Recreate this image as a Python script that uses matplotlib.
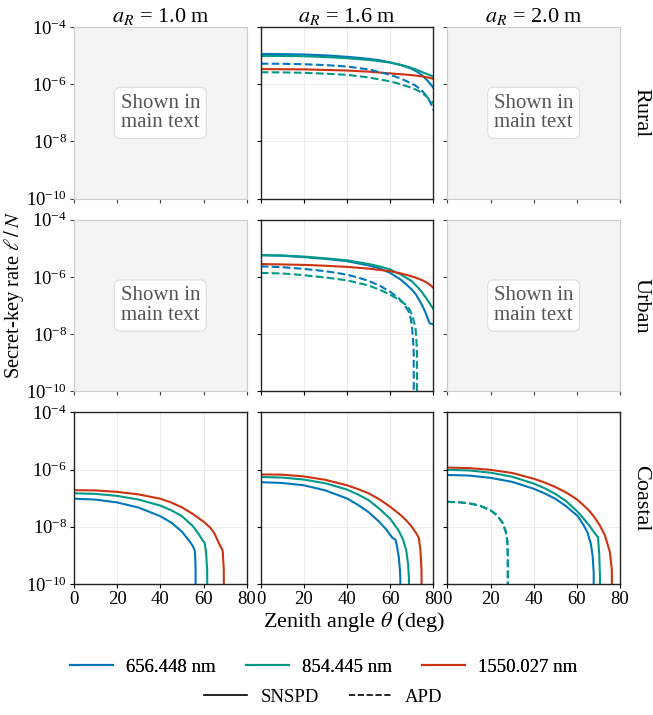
import numpy as np
import matplotlib
matplotlib.use("Agg")
import matplotlib.pyplot as plt
from matplotlib.lines import Line2D

plt.rcParams['font.family'] = ['Liberation Serif', 'DejaVu Serif']
plt.rcParams['mathtext.fontset'] = 'stix'

# ---------------- data ----------------
apertures = ["1.0", "1.6", "2.0"]
environments = ["Rural", "Urban", "Coastal"]
wavelengths = ["656.448 nm", "854.445 nm", "1550.027 nm"]
colors = ["#0077BB", "#009988", "#CC3311"]

# All rates given as log10(ell/N).
# Rural, a_R = 1.6 m
rural16_blue_s_theta = [0, 10, 20, 30, 40, 50, 55, 60, 65, 70, 72.4, 75, 77, 78.5, 80]
rural16_blue_s = [-4.94, -4.945, -4.96, -4.99, -5.04, -5.11, -5.16, -5.24, -5.33, -5.46, -5.56, -5.70, -5.85, -5.98, -6.12]
rural16_green_s_theta = [0, 10, 20, 30, 40, 50, 60, 65, 70, 72.4, 75, 78, 80]
rural16_green_s = [-5.01, -5.01, -5.02, -5.05, -5.09, -5.15, -5.24, -5.32, -5.43, -5.50, -5.58, -5.67, -5.73]
rural16_red_s_theta = [0, 20, 40, 50, 60, 70, 75, 78, 80]
rural16_red_s = [-5.47, -5.48, -5.52, -5.56, -5.62, -5.68, -5.73, -5.77, -5.81]
rural16_blue_a_theta = [0, 10, 20, 30, 40, 50, 60, 65, 70, 72.4, 75, 77, 78, 79, 80]
rural16_blue_a = [-5.28, -5.285, -5.30, -5.33, -5.38, -5.48, -5.67, -5.80, -5.98, -6.08, -6.25, -6.42, -6.55, -6.70, -6.90]
rural16_green_a_theta = [0, 10, 20, 30, 40, 50, 60, 65, 70, 72.4, 75, 77, 78, 79, 80]
rural16_green_a = [-5.58, -5.585, -5.60, -5.63, -5.67, -5.76, -5.90, -6.00, -6.13, -6.20, -6.32, -6.44, -6.52, -6.60, -6.66]

# Urban, a_R = 1.6 m
urban16_blue_s_theta = [0, 10, 20, 30, 40, 50, 55, 60, 65, 68, 70, 72, 74, 75, 76.5, 77.5, 78.3, 80]
urban16_blue_s = [-5.24, -5.26, -5.31, -5.37, -5.45, -5.60, -5.70, -5.86, -6.10, -6.30, -6.44, -6.62, -6.88, -7.02, -7.27, -7.48, -7.62, -7.66]
urban16_green_s_theta = [0, 10, 20, 30, 40, 50, 55, 60, 65, 70, 73, 75, 77, 78.5, 80]
urban16_green_s = [-5.24, -5.25, -5.29, -5.35, -5.42, -5.55, -5.63, -5.74, -5.92, -6.15, -6.38, -6.56, -6.78, -6.95, -7.12]
urban16_red_s_theta = [0, 20, 30, 40, 50, 60, 65, 70, 73, 75, 77, 78.5, 80]
urban16_red_s = [-5.55, -5.58, -5.61, -5.65, -5.71, -5.80, -5.88, -5.98, -6.06, -6.12, -6.20, -6.28, -6.38]
urban16_blue_a_theta = [0, 10, 20, 30, 40, 45, 50, 55, 60, 64, 66.2, 68.5, 69.5, 70.1, 70.6, 70.9, 71.0]
urban16_blue_a = [-5.63, -5.66, -5.72, -5.80, -5.92, -6.02, -6.14, -6.30, -6.52, -6.75, -6.92, -7.20, -7.45, -7.72, -8.20, -8.60, -12]
urban16_green_a_theta = [0, 10, 20, 30, 40, 50, 55, 60, 64, 67.8, 69.4, 70.8, 71.8, 72.2, 72.4, 72.5]
urban16_green_a = [-5.86, -5.88, -5.94, -6.02, -6.12, -6.30, -6.44, -6.62, -6.80, -7.00, -7.20, -7.50, -7.84, -8.30, -8.60, -12]

# Coastal, a_R = 1.0 m
coast10_blue_theta = [0, 10, 20, 30, 40, 45, 50, 54, 55, 55.5, 56.0, 56.3, 56.4]
coast10_blue = [-7.02, -7.05, -7.15, -7.33, -7.63, -7.85, -8.17, -8.55, -8.67, -8.75, -8.85, -9.30, -12]
coast10_green_theta = [0, 10, 20, 30, 40, 45, 50, 55, 58, 59.8, 60.5, 61.2, 61.7, 61.8]
coast10_green = [-6.83, -6.85, -6.92, -7.05, -7.26, -7.42, -7.63, -7.97, -8.28, -8.50, -8.55, -8.90, -9.50, -12]
coast10_red_theta = [0, 10, 20, 30, 40, 45, 50, 55, 60, 63, 65, 67.6, 68.2, 68.9, 69.4, 69.5]
coast10_red = [-6.72, -6.73, -6.78, -6.87, -7.02, -7.15, -7.32, -7.55, -7.82, -8.02, -8.22, -8.65, -8.72, -8.85, -9.50, -12]

# Coastal, a_R = 1.6 m
coast16_blue_theta = [0, 10, 20, 30, 40, 45, 50, 55, 58, 61, 61.5, 62.5, 63.2, 64.0, 64.5, 64.7, 64.8]
coast16_blue = [-6.44, -6.47, -6.55, -6.73, -7.01, -7.23, -7.49, -7.83, -8.08, -8.38, -8.41, -8.45, -8.70, -9.06, -9.50, -9.80, -12]
coast16_green_theta = [0, 10, 20, 30, 40, 45, 50, 55, 60, 63.9, 66, 67.5, 68.3, 68.7, 68.8]
coast16_green = [-6.26, -6.28, -6.35, -6.48, -6.70, -6.87, -7.07, -7.37, -7.72, -8.13, -8.45, -8.85, -9.30, -9.80, -12]
coast16_red_theta = [0, 10, 20, 30, 40, 45, 50, 55, 60, 65, 68, 70, 72, 72.7, 73.3, 74.0, 74.5, 74.7]
coast16_red = [-6.17, -6.18, -6.24, -6.36, -6.55, -6.68, -6.83, -7.04, -7.30, -7.60, -7.82, -8.00, -8.22, -8.31, -8.40, -8.80, -9.50, -12]

# Coastal, a_R = 2.0 m
coast20_blue_theta = [0, 10, 20, 30, 40, 45, 50, 55, 60, 60.6, 61.2, 63.0, 64.9, 66.5, 67.3, 67.8, 67.9]
coast20_blue = [-6.19, -6.21, -6.29, -6.43, -6.67, -6.83, -7.02, -7.28, -7.60, -7.65, -7.72, -7.93, -8.19, -8.60, -9.01, -9.60, -12]
coast20_green_theta = [0, 10, 20, 30, 40, 45, 50, 55, 60, 63, 66, 68, 69.3, 69.8, 70.4, 70.7, 70.8]
coast20_green = [-6.01, -6.03, -6.11, -6.25, -6.49, -6.65, -6.85, -7.10, -7.45, -7.70, -7.98, -8.20, -8.32, -8.36, -9.00, -9.70, -12]
coast20_red_theta = [0, 10, 20, 30, 40, 45, 50, 55, 60, 65, 68, 70.7, 73, 75.3, 76.2, 76.4]
coast20_red = [-5.93, -5.95, -6.01, -6.12, -6.32, -6.45, -6.61, -6.80, -7.04, -7.38, -7.65, -7.96, -8.30, -8.88, -9.50, -12]
coast20_apd_theta = [0, 5, 10, 15, 20, 23, 25.5, 27, 27.8, 28.0, 28.1]
coast20_apd = [-7.13, -7.14, -7.18, -7.26, -7.42, -7.60, -7.85, -8.15, -8.50, -9.00, -12]

# (row, col) -> list of (theta, log10 rate, color index, linestyle)
panels = {
    (0, 1): [(rural16_blue_s_theta, rural16_blue_s, 0, '-'),
             (rural16_green_s_theta, rural16_green_s, 1, '-'),
             (rural16_red_s_theta, rural16_red_s, 2, '-'),
             (rural16_blue_a_theta, rural16_blue_a, 0, '--'),
             (rural16_green_a_theta, rural16_green_a, 1, '--')],
    (1, 1): [(urban16_blue_s_theta, urban16_blue_s, 0, '-'),
             (urban16_green_s_theta, urban16_green_s, 1, '-'),
             (urban16_red_s_theta, urban16_red_s, 2, '-'),
             (urban16_blue_a_theta, urban16_blue_a, 0, '--'),
             (urban16_green_a_theta, urban16_green_a, 1, '--')],
    (2, 0): [(coast10_blue_theta, coast10_blue, 0, '-'),
             (coast10_green_theta, coast10_green, 1, '-'),
             (coast10_red_theta, coast10_red, 2, '-')],
    (2, 1): [(coast16_blue_theta, coast16_blue, 0, '-'),
             (coast16_green_theta, coast16_green, 1, '-'),
             (coast16_red_theta, coast16_red, 2, '-')],
    (2, 2): [(coast20_blue_theta, coast20_blue, 0, '-'),
             (coast20_green_theta, coast20_green, 1, '-'),
             (coast20_red_theta, coast20_red, 2, '-'),
             (coast20_apd_theta, coast20_apd, 0, '--'),
             (coast20_apd_theta, coast20_apd, 1, '--')],
}
placeholders = [(0, 0), (0, 2), (1, 0), (1, 2)]

# ---------------- figure ----------------
fig, axes = plt.subplots(3, 3, figsize=(6.53, 7.15), dpi=100, sharex=True, sharey=True)
fig.subplots_adjust(left=0.1133, right=0.9495, top=0.9622, bottom=0.1832,
                    wspace=0.081, hspace=0.122)

FS = 13.5
FL = 16
for r in range(3):
    for c in range(3):
        ax = axes[r, c]
        ax.set_yscale('log')
        ax.set_xlim(0, 80)
        ax.set_ylim(1e-10, 1e-4)
        ax.set_xticks([0, 20, 40, 60, 80])
        ax.set_yticks([1e-10, 1e-8, 1e-6, 1e-4])
        ax.yaxis.set_minor_locator(matplotlib.ticker.NullLocator())
        ax.grid(True, color='#ebebeb', linewidth=0.6)
        ax.set_axisbelow(True)
        ax.tick_params(labelsize=FS, length=3, width=0.8, pad=2)
        if (r, c) in placeholders:
            ax.set_facecolor('#f4f4f4')
            ax.grid(False)
            for s in ax.spines.values():
                s.set_color('#cccccc')
            ax.tick_params(color='#444444')
            ax.text(0.5, 0.5, "Shown in\nmain text", transform=ax.transAxes,
                    ha='center', va='center', fontsize=15, color='#555555',
                    linespacing=1.05,
                    bbox=dict(boxstyle='round,pad=0.3', facecolor='white',
                              edgecolor='#dddddd', linewidth=0.8))
        else:
            for s in ax.spines.values():
                s.set_color('#222222')
                s.set_linewidth(1.0)
            for th, lv, ci, ls in panels[(r, c)]:
                ax.plot(th, 10.0 ** np.array(lv), color=colors[ci], linestyle=ls,
                        linewidth=1.5)
        if r == 0:
            ax.set_title(r"$a_R$ = " + apertures[c] + " m", fontsize=FL, pad=3)
        if c == 2:
            ax.text(1.12, 0.5, environments[r], transform=ax.transAxes,
                    rotation=-90, ha='center', va='center', fontsize=FL)
        if c != 0:
            ax.tick_params(labelleft=False)

fig.text(0.021, 0.587, r"Secret-key rate $\ell\,/\,N$", rotation=90,
         ha='center', va='center', fontsize=14.8)
fig.text(0.542, 0.130, r"Zenith angle $\theta$ (deg)", ha='center', va='center',
         fontsize=FL)

h1 = [Line2D([], [], color=colors[i], linewidth=1.5) for i in range(3)]
leg1 = fig.legend(h1, wavelengths, loc='center', bbox_to_anchor=(0.4954, 0.067),
                  ncol=3, frameon=False, fontsize=FS, handlelength=2.3,
                  columnspacing=1.6, handletextpad=0.7)
fig.add_artist(leg1)
h2 = [Line2D([], [], color='black', linewidth=1.2, linestyle='-'),
      Line2D([], [], color='black', linewidth=1.2, linestyle='--')]
fig.legend(h2, ["SNSPD", "APD"], loc='center', bbox_to_anchor=(0.4954, 0.025),
           ncol=2, frameon=False, fontsize=FS, handlelength=2.3,
           columnspacing=1.6, handletextpad=0.7)

fig.savefig("out.png", dpi=100)
